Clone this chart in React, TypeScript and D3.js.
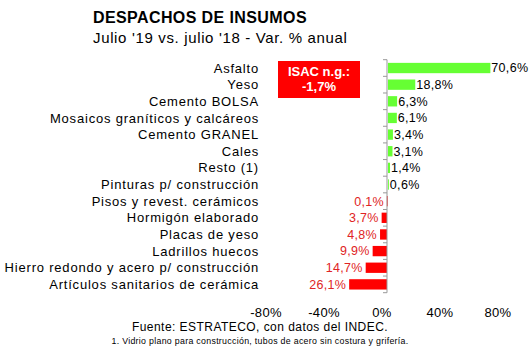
import React from "react";
import * as d3 from "d3";

const categories = [
  "Asfalto",
  "Yeso",
  "Cemento BOLSA",
  "Mosaicos graníticos y calcáreos",
  "Cemento GRANEL",
  "Cales",
  "Resto (1)",
  "Pinturas p/ construcción",
  "Pisos y revest. cerámicos",
  "Hormigón elaborado",
  "Placas de yeso",
  "Ladrillos huecos",
  "Hierro redondo y acero p/ construcción",
  "Artículos sanitarios de cerámica",
];
const values = [70.6, 18.8, 6.3, 6.1, 3.4, 3.1, 1.4, 0.6, -0.1, -3.7, -4.8, -9.9, -14.7, -26.1];
const tickValues = [-80, -40, 0, 40, 80];
const title = "DESPACHOS DE INSUMOS";
const subtitle = "Julio '19 vs. julio '18 - Var. % anual";
const isacLines = ["ISAC n.g.:", "-1,7%"];
const source = "Fuente: ESTRATECO, con datos del INDEC.";
const footnote = "1. Vidrio plano para construcción, tubos de acero sin costura y grifería.";

const W = 530;
const H = 355;
const FONT = "'Liberation Sans', Arial, sans-serif";
const GREEN = "#66ff33";
const RED = "#ff0000";
const RED_TEXT = "#e02424";

const fmt = (v: number) => Math.abs(v).toFixed(1).replace(".", ",") + "%";

export default function App() {
  const x = d3.scaleLinear().domain([-80, 80]).range([271, 503]);
  const y = d3.scaleBand<string>().domain(categories).range([59.7, 292.7]).paddingInner(0.38).paddingOuter(0.19);
  const x0 = x(0);
  const boundaries = d3.range(categories.length + 1).map((i) => 59.7 + (i * (292.7 - 59.7)) / categories.length);

  return (
    <svg width={W} height={H} style={{ position: "absolute", left: 0, top: 0, background: "#fff" }} fontFamily={FONT}>
      <text x={93} y={23} fontSize={16} fontWeight="bold" letterSpacing={0.4} fill="#000">{title}</text>
      <text x={93} y={43} fontSize={15} letterSpacing={0.65} fill="#000">{subtitle}</text>

      {categories.map((c, i) => {
        const v = values[i];
        const yc = (y(c) as number) + y.bandwidth() / 2;
        const bx = v >= 0 ? x0 + 1 : x(v);
        const bw = Math.max(Math.abs(x(v) - x0), 0.8);
        return (
          <g key={c}>
            <text x={259} y={yc} dy="0.35em" textAnchor="end" fontSize={13} letterSpacing={0.8} fill="#000">{c}</text>
            <rect x={bx} y={y(c)} width={bw} height={y.bandwidth()} fill={v >= 0 ? GREEN : RED} />
            <text
              x={v >= 0 ? x(v) + 2 : x(v) - 3}
              y={yc}
              dy="0.35em"
              textAnchor={v >= 0 ? "start" : "end"}
              fontSize={12.5}
              letterSpacing={0.3}
              fill={v >= 0 ? "#000" : RED_TEXT}
            >
              {fmt(v)}
            </text>
          </g>
        );
      })}

      <line x1={x0} x2={x0} y1={boundaries[0]} y2={boundaries[boundaries.length - 1]} stroke="#999" strokeWidth={1} />
      {boundaries.map((b, i) => (
        <line key={i} x1={x0 - 4} x2={x0} y1={b} y2={b} stroke="#999" strokeWidth={1} />
      ))}

      {tickValues.map((t) => (
        <text key={t} x={x(t) - 5} y={317} textAnchor="middle" fontSize={13} letterSpacing={0.3} fill="#000">{t + "%"}</text>
      ))}

      <rect x={278} y={61} width={82} height={37} fill={RED} />
      {isacLines.map((l, i) => (
        <text key={l} x={319} y={76 + i * 15} textAnchor="middle" fontSize={13} fontWeight="bold" fill="#fff">{l}</text>
      ))}

      <text x={260} y={331} textAnchor="middle" fontSize={12} letterSpacing={0.45} fill="#000">{source}</text>
      <text x={260} y={344} textAnchor="middle" fontSize={8.8} letterSpacing={0.3} fill="#000">{footnote}</text>
    </svg>
  );
}
